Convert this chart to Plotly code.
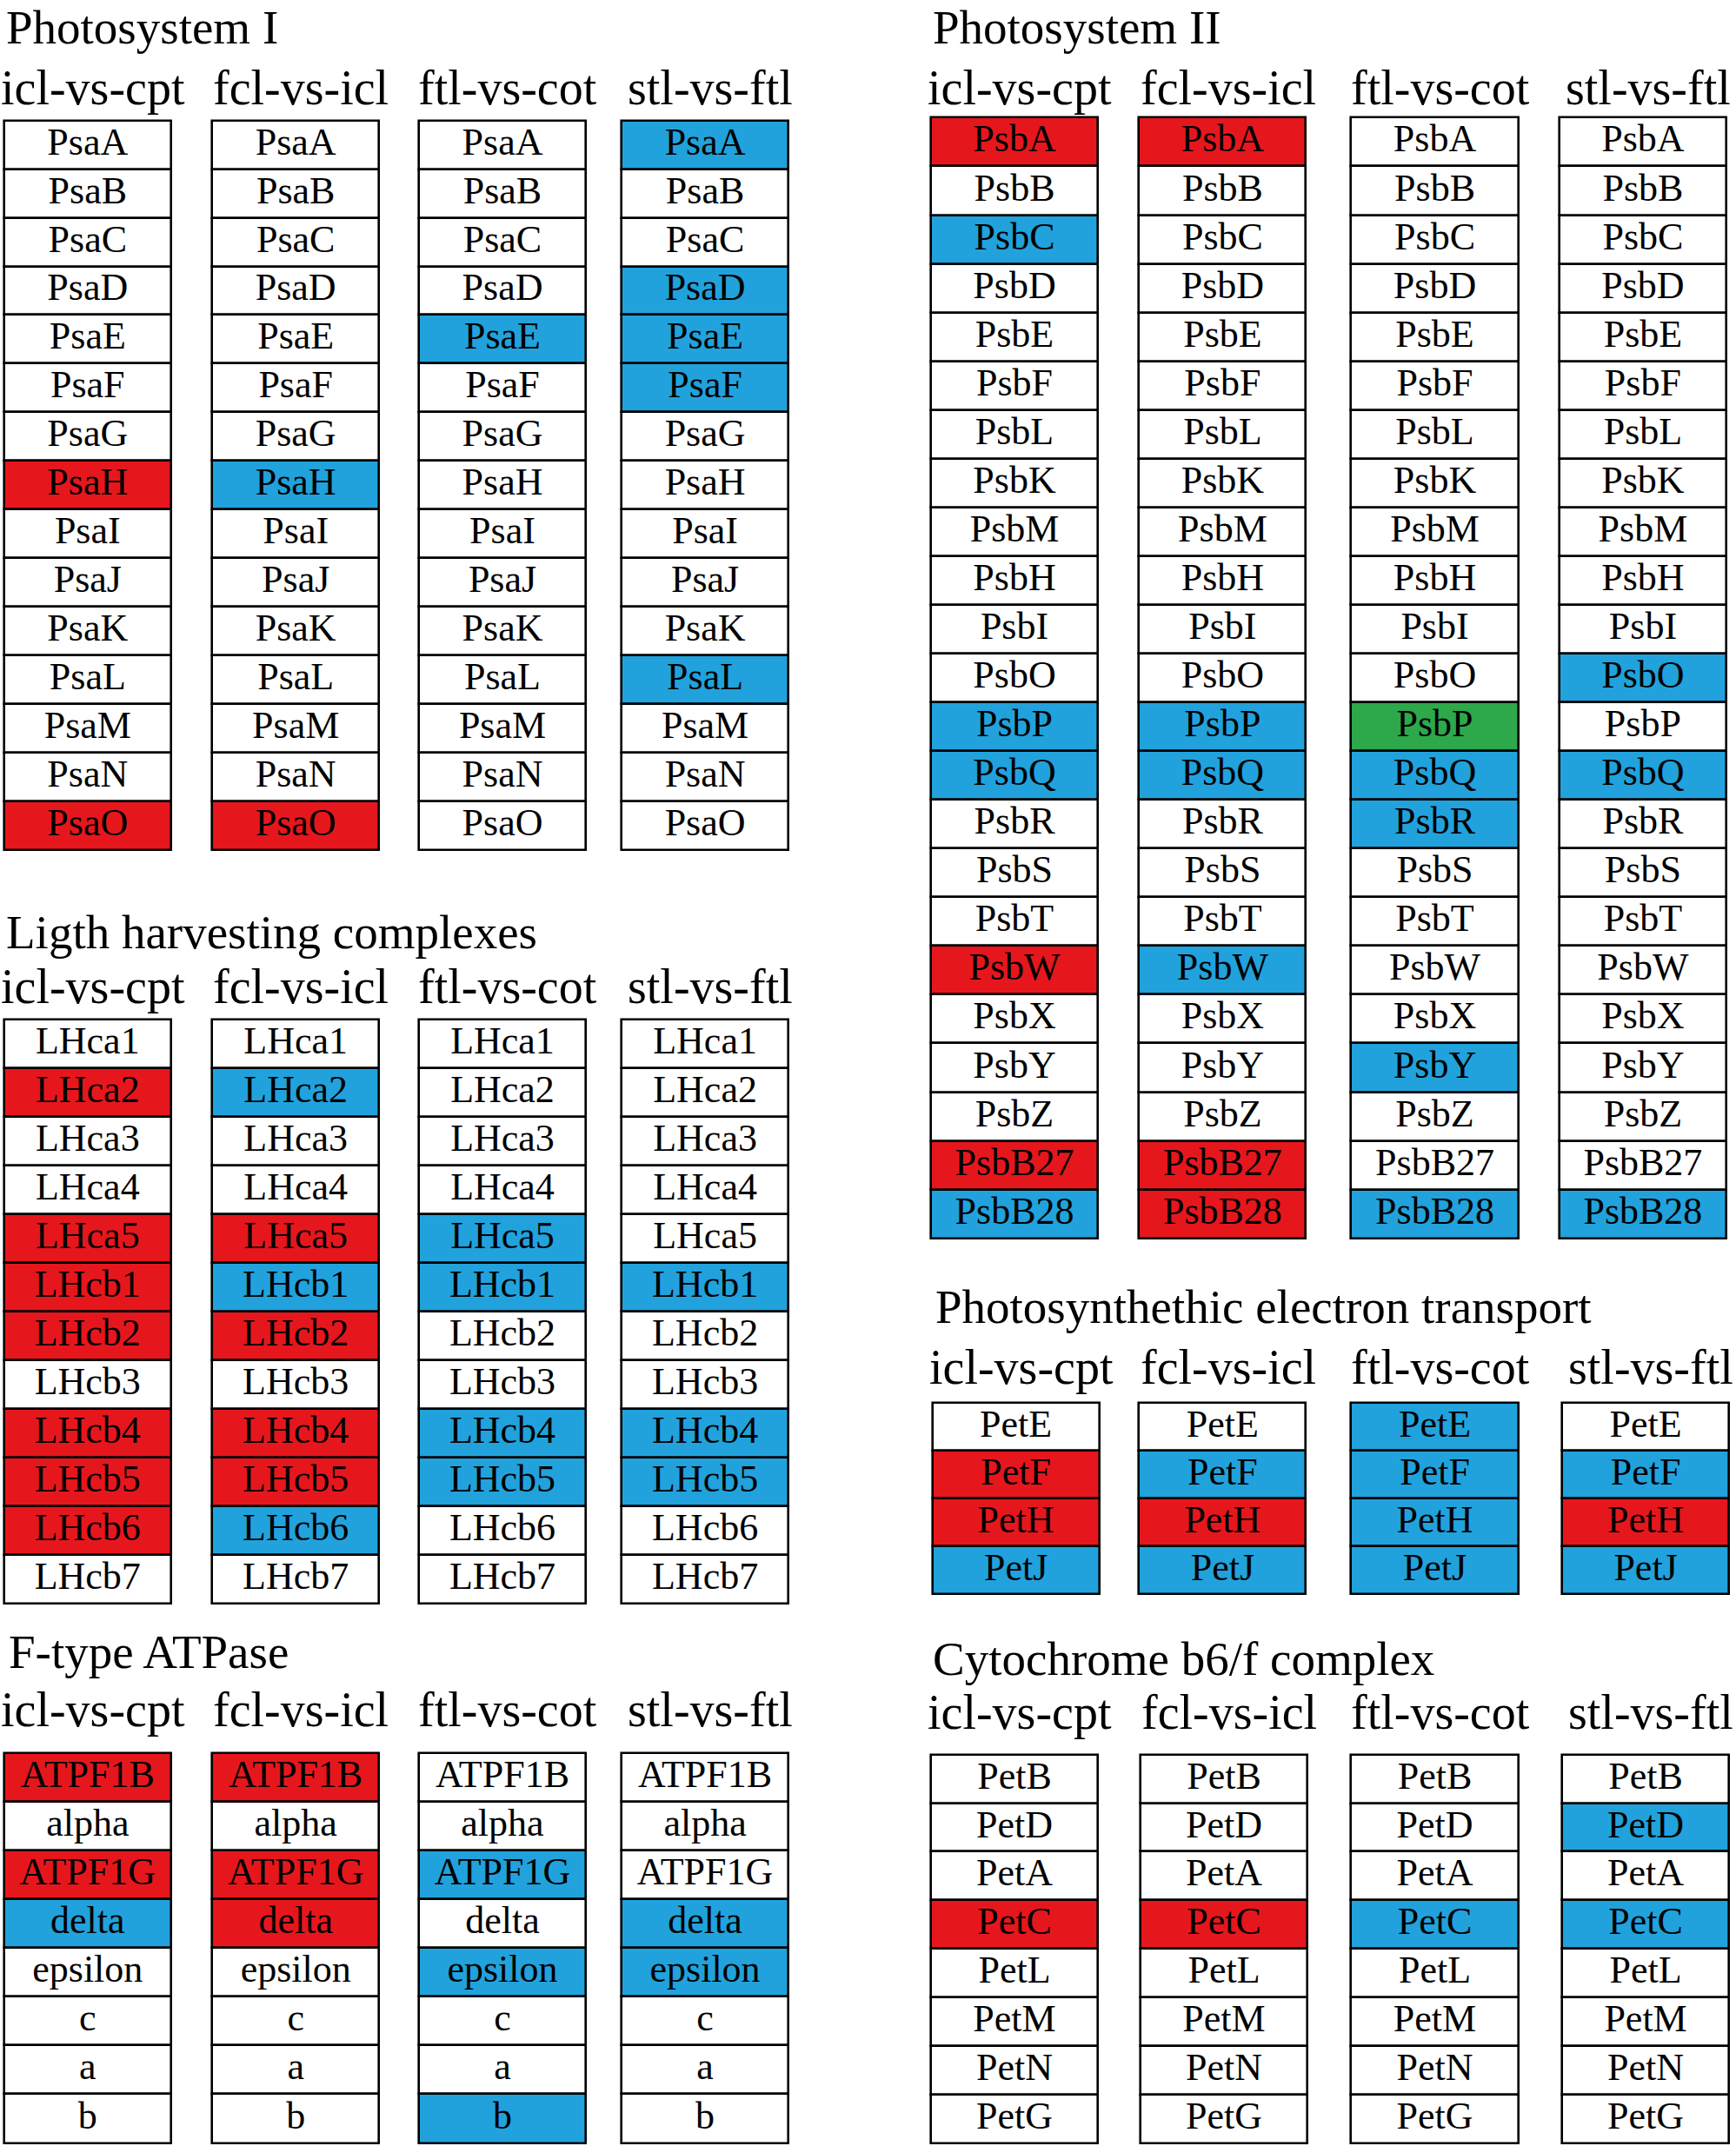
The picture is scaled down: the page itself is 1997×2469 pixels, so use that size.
import plotly.graph_objects as go

# 0 = no change, 1 = up (red), -1 = down (blue), 2 = green
comparisons = ["icl-vs-cpt", "fcl-vs-icl", "ftl-vs-cot", "stl-vs-ftl"]

ps1_genes = ["PsaA", "PsaB", "PsaC", "PsaD", "PsaE", "PsaF", "PsaG", "PsaH",
             "PsaI", "PsaJ", "PsaK", "PsaL", "PsaM", "PsaN", "PsaO"]
ps1_icl_cpt = [0, 0, 0, 0, 0, 0, 0, 1, 0, 0, 0, 0, 0, 0, 1]
ps1_fcl_icl = [0, 0, 0, 0, 0, 0, 0, -1, 0, 0, 0, 0, 0, 0, 1]
ps1_ftl_cot = [0, 0, 0, 0, -1, 0, 0, 0, 0, 0, 0, 0, 0, 0, 0]
ps1_stl_ftl = [-1, 0, 0, -1, -1, -1, 0, 0, 0, 0, 0, -1, 0, 0, 0]

lhc_genes = ["LHca1", "LHca2", "LHca3", "LHca4", "LHca5", "LHcb1", "LHcb2",
             "LHcb3", "LHcb4", "LHcb5", "LHcb6", "LHcb7"]
lhc_icl_cpt = [0, 1, 0, 0, 1, 1, 1, 0, 1, 1, 1, 0]
lhc_fcl_icl = [0, -1, 0, 0, 1, -1, 1, 0, 1, 1, -1, 0]
lhc_ftl_cot = [0, 0, 0, 0, -1, -1, 0, 0, -1, -1, 0, 0]
lhc_stl_ftl = [0, 0, 0, 0, 0, -1, 0, 0, -1, -1, 0, 0]

atp_genes = ["ATPF1B", "alpha", "ATPF1G", "delta", "epsilon", "c", "a", "b"]
atp_icl_cpt = [1, 0, 1, -1, 0, 0, 0, 0]
atp_fcl_icl = [1, 0, 1, 1, 0, 0, 0, 0]
atp_ftl_cot = [0, 0, -1, 0, -1, 0, 0, -1]
atp_stl_ftl = [0, 0, 0, -1, -1, 0, 0, 0]

ps2_genes = ["PsbA", "PsbB", "PsbC", "PsbD", "PsbE", "PsbF", "PsbL", "PsbK",
             "PsbM", "PsbH", "PsbI", "PsbO", "PsbP", "PsbQ", "PsbR", "PsbS",
             "PsbT", "PsbW", "PsbX", "PsbY", "PsbZ", "PsbB27", "PsbB28"]
ps2_icl_cpt = [1, 0, -1, 0, 0, 0, 0, 0, 0, 0, 0, 0, -1, -1, 0, 0, 0, 1, 0, 0, 0, 1, -1]
ps2_fcl_icl = [1, 0, 0, 0, 0, 0, 0, 0, 0, 0, 0, 0, -1, -1, 0, 0, 0, -1, 0, 0, 0, 1, 1]
ps2_ftl_cot = [0, 0, 0, 0, 0, 0, 0, 0, 0, 0, 0, 0, 2, -1, -1, 0, 0, 0, 0, -1, 0, 0, -1]
ps2_stl_ftl = [0, 0, 0, 0, 0, 0, 0, 0, 0, 0, 0, -1, 0, -1, 0, 0, 0, 0, 0, 0, 0, 0, -1]

pet_genes = ["PetE", "PetF", "PetH", "PetJ"]
pet_icl_cpt = [0, 1, 1, -1]
pet_fcl_icl = [0, -1, 1, -1]
pet_ftl_cot = [-1, -1, -1, -1]
pet_stl_ftl = [0, -1, 1, -1]

cyt_genes = ["PetB", "PetD", "PetA", "PetC", "PetL", "PetM", "PetN", "PetG"]
cyt_icl_cpt = [0, 0, 0, 1, 0, 0, 0, 0]
cyt_fcl_icl = [0, 0, 0, 1, 0, 0, 0, 0]
cyt_ftl_cot = [0, 0, 0, -1, 0, 0, 0, 0]
cyt_stl_ftl = [0, -1, 0, -1, 0, 0, 0, 0]

COLORS = {0: "#FFFFFF", 1: "#E5171D", -1: "#21A2DC", 2: "#2DA84A"}
FONT = "Liberation Serif, Times New Roman, serif"

# layout in a 1268 x 1568 frame (scaled to the 1997 x 2469 page)
sections = [
    dict(title="Photosystem I", tx=3, ty=20, hy=64, cols=[3, 155, 306, 454],
         top=88, rowh=35.55, genes=ps1_genes,
         vals=[ps1_icl_cpt, ps1_fcl_icl, ps1_ftl_cot, ps1_stl_ftl]),
    dict(title="Ligth harvesting complexes", tx=3, ty=681, hy=721, cols=[3, 155, 306, 454],
         top=745, rowh=35.58, genes=lhc_genes,
         vals=[lhc_icl_cpt, lhc_fcl_icl, lhc_ftl_cot, lhc_stl_ftl]),
    dict(title="F-type ATPase", tx=5, ty=1207, hy=1249, cols=[3, 155, 306, 454],
         top=1281, rowh=35.6, genes=atp_genes,
         vals=[atp_icl_cpt, atp_fcl_icl, atp_ftl_cot, atp_stl_ftl]),
    dict(title="Photosystem II", tx=680, ty=20, hy=64, cols=[680, 832, 987, 1139],
         top=86, rowh=35.6, genes=ps2_genes,
         vals=[ps2_icl_cpt, ps2_fcl_icl, ps2_ftl_cot, ps2_stl_ftl]),
    dict(title="Photosynthethic electron transport", tx=682, ty=955, hy=999,
         cols=[681, 832, 987, 1141], top=1025, rowh=35.0, genes=pet_genes,
         vals=[pet_icl_cpt, pet_fcl_icl, pet_ftl_cot, pet_stl_ftl]),
    dict(title="Cytochrome b6/f complex", tx=680, ty=1212, hy=1251,
         cols=[680, 833, 987, 1141], top=1282, rowh=35.5, genes=cyt_genes,
         vals=[cyt_icl_cpt, cyt_fcl_icl, cyt_ftl_cot, cyt_stl_ftl]),
]
COLW = 122

fig = go.Figure()
annotations = []

for sec in sections:
    n = len(sec["genes"])
    bases = [sec["top"] + i * sec["rowh"] for i in range(n)]
    mids = [b + sec["rowh"] / 2 for b in bases]
    for j, (left, vals) in enumerate(zip(sec["cols"], sec["vals"])):
        cx = left + COLW / 2
        fig.add_trace(go.Bar(
            x=[cx] * n, y=[sec["rowh"]] * n, base=bases, width=COLW,
            marker=dict(color=[COLORS[v] for v in vals],
                        line=dict(color="black", width=2.6)),
            hoverinfo="skip", showlegend=False,
        ))
        fig.add_trace(go.Scatter(
            x=[cx] * n, y=mids, mode="text", text=sec["genes"],
            textposition="middle center",
            textfont=dict(family=FONT, size=44, color="black"),
            hoverinfo="skip", showlegend=False,
        ))
        annotations.append(dict(
            x=cx + 4, y=sec["hy"], text=comparisons[j], showarrow=False,
            xanchor="center", yanchor="middle",
            font=dict(family=FONT, size=56, color="black"),
        ))
    annotations.append(dict(
        x=sec["tx"], y=sec["ty"], text=sec["title"], showarrow=False,
        xanchor="left", yanchor="middle",
        font=dict(family=FONT, size=55, color="black"),
    ))

fig.update_layout(
    width=1997, height=2469,
    margin=dict(l=0, r=0, t=0, b=0),
    paper_bgcolor="white", plot_bgcolor="white",
    barmode="overlay", bargap=0,
    annotations=annotations,
    xaxis=dict(range=[0, 1268], visible=False, fixedrange=True),
    yaxis=dict(range=[1568, 0], visible=False, fixedrange=True),
)

# drop the default page margin so the figure sits at the window corner
fig.write_html("out.html", config={"displayModeBar": False},
               post_script="document.body.style.margin='0';")
